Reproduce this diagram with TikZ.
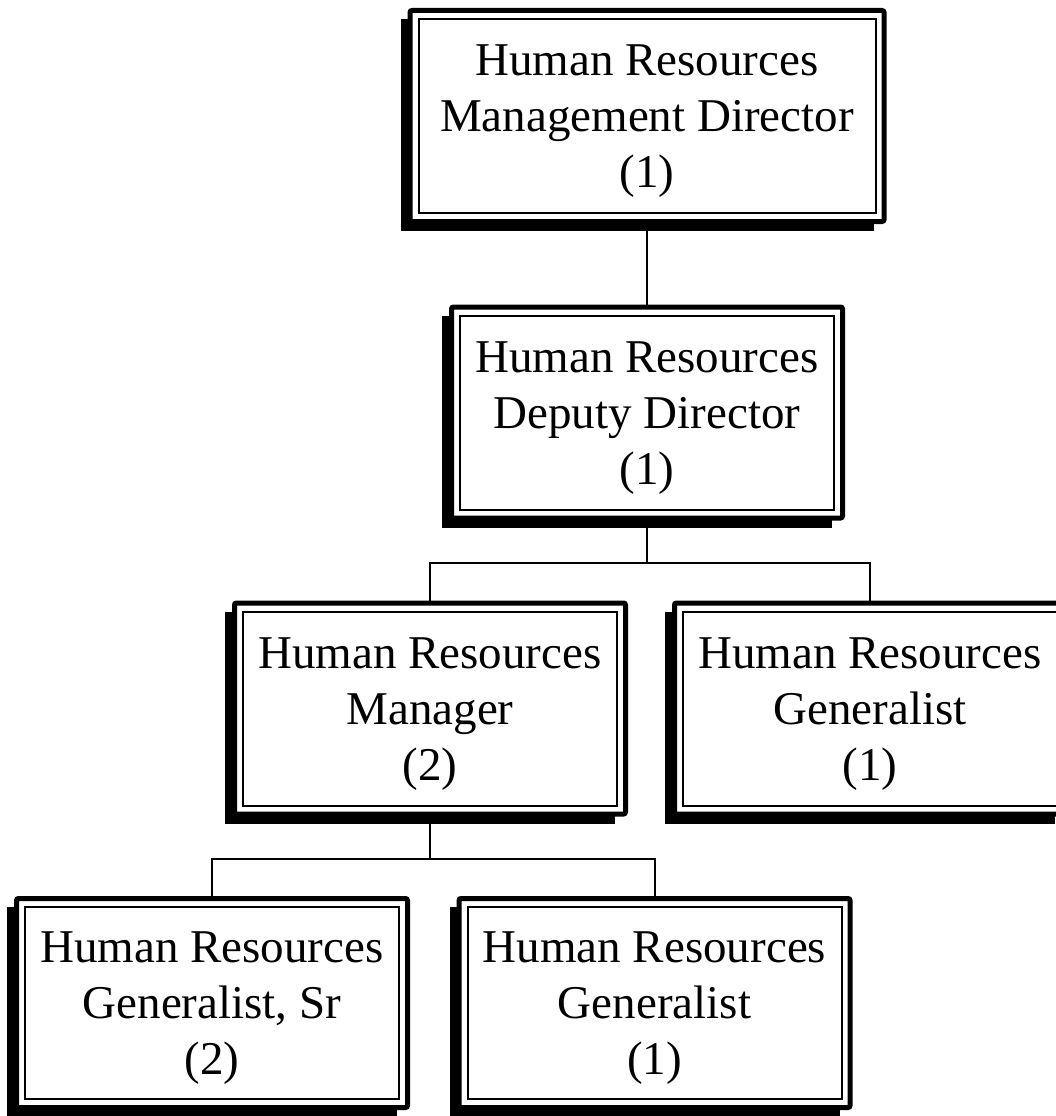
\documentclass[tikz,border=0pt]{standalone}
\usepackage{fontspec}
\setmainfont{Liberation Serif}
\usetikzlibrary{backgrounds}

% black drop shadow sitting below and to the left of a box
\newcommand\roleshadow[1]{%
  \fill ([shift={(-7pt,-7pt)}]#1.south west) rectangle ([shift={(-13pt,-11pt)}]#1.north east);}
% thin inner rule of the double frame
\newcommand\roleframe[1]{%
  \draw[line width=2pt] ([shift={(11pt,11pt)}]#1.south west) rectangle ([shift={(-11pt,-11pt)}]#1.north east);}
% extra head room above the first line of a box
\newcommand\headroom{\rule{0pt}{41pt}}

\begin{document}
\begin{tikzpicture}[x=1pt,y=-1pt,
  role/.style={draw, line width=5pt, rounded corners=2pt, fill=white,
    outer sep=2.5pt, inner sep=0pt, align=center,
    font=\fontsize{47}{56}\selectfont,
    minimum width=391pt, minimum height=211pt},
  widerole/.style={minimum width=474pt},
  link/.style={line width=2pt}]

\clip (0,0) rectangle (1056,1116);
\useasboundingbox (0,0) rectangle (1056,1116);

% positions
\node[role, widerole] (dir) at (647,116)    {\headroom Human Resources\\Management Director\\(1)};
\node[role]           (dep) at (647,412.5)  {\headroom Human Resources\\Deputy Director\\(1)};
\node[role]           (mgr) at (430,708.5)  {\headroom Human Resources\\Manager\\(2)};
\node[role]           (gen) at (870,708.5)  {\headroom Human Resources\\Generalist\\(1)};
\node[role, minimum height=209pt] (sr)  at (212,1003)  {\headroom Human Resources\\Generalist, Sr\\(2)};
\node[role, minimum height=209pt] (gen2) at (654.5,1003) {\headroom Human Resources\\Generalist\\(1)};

% inner rules
\foreach \n in {dir,dep,mgr,gen,sr,gen2} {\roleframe{\n}}

% shadows behind the boxes
\begin{scope}[on background layer]
  \foreach \n in {dir,dep,mgr,gen,sr,gen2} {\roleshadow{\n}}
\end{scope}

% reporting lines
\coordinate (bus1) at (647,563);
\coordinate (bus2) at (430,859);
\draw[link] (dir.south) -- (dep.north);
\draw[link] (dep.south) -- (bus1);
\draw[link] (mgr.north) |- (bus1) -| (gen.north);
\draw[link] (mgr.south) -- (bus2);
\draw[link] (sr.north) |- (bus2) -| (gen2.north);
\end{tikzpicture}
\end{document}
